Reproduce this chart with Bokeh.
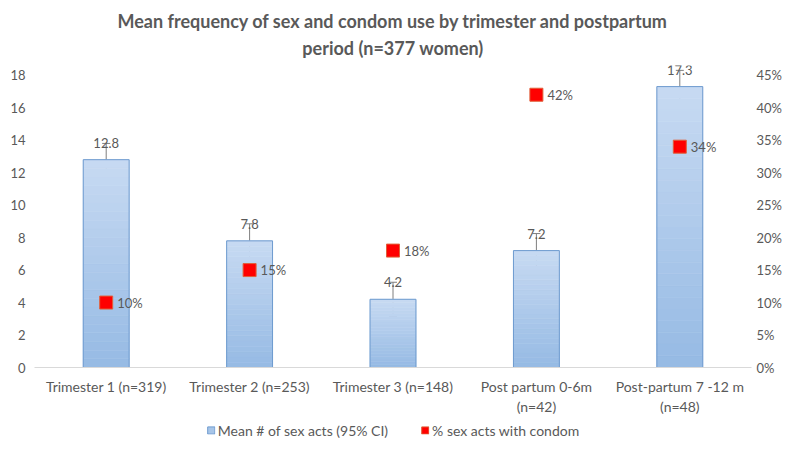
from bokeh.plotting import figure
from bokeh.layouts import column
from bokeh.models import (ColumnDataSource, FactorRange, Range1d, LinearAxis, FixedTicker,
                          PrintfTickFormatter, Whisker, TeeHead, Legend, LegendItem, Title)
from bokeh.core.properties import value
from bokeh.embed import file_html
from bokeh.resources import INLINE

categories = ["Trimester 1 (n=319)", "Trimester 2 (n=253)", "Trimester 3 (n=148)",
              "Post partum 0-6m\n(n=42)", "Post-partum 7 -12 m\n(n=48)"]
mean_acts = [12.8, 7.8, 4.2, 7.2, 17.3]
ci_err = [1.0, 1.05, 1.05, 1.05, 1.0]
pct_condom = [10, 15, 18, 42, 34]
left_ticks = [0, 2, 4, 6, 8, 10, 12, 14, 16, 18]
right_ticks = [0, 5, 10, 15, 20, 25, 30, 35, 40, 45]

FONT = "Lato"
GRAY = "#595959"
BAR_TOP = (199, 218, 242)
BAR_BOTTOM = (150, 186, 228)
N_SLICES = 24
Y_END = 18.6                 # a little headroom so the top value label is not clipped
PCT_END = 45 * Y_END / 18    # keeps 45% level with 18 on the left axis

src = ColumnDataSource(dict(
    cat=categories,
    mean=mean_acts,
    upper=[m + e for m, e in zip(mean_acts, ci_err)],
    lower=[m - e for m, e in zip(mean_acts, ci_err)],
    mlab=[f"{m:.1f}" for m in mean_acts],
    pct=pct_condom,
    plab=[f"{v}%" for v in pct_condom],
))

# gradient slices of each bar (derived from the bar values)
gx, gb, gt, gc = [], [], [], []
for c, m in zip(categories, mean_acts):
    for i in range(N_SLICES):
        f = (i + 0.5) / N_SLICES
        col = tuple(round(BAR_BOTTOM[k] + (BAR_TOP[k] - BAR_BOTTOM[k]) * f) for k in range(3))
        gx.append(c)
        gb.append(m * i / N_SLICES)
        gt.append(m * (i + 1) / N_SLICES)
        gc.append("#%02x%02x%02x" % col)
grad = ColumnDataSource(dict(x=gx, bottom=gb, top=gt, color=gc))

p = figure(width=784, height=418, x_range=FactorRange(*categories), y_range=Range1d(0, Y_END),
           output_backend="svg", toolbar_location=None,
           min_border_left=34, min_border_right=32, min_border_top=65, min_border_bottom=51)
p.extra_y_ranges = {"pct": Range1d(0, PCT_END)}
p.outline_line_color = None
p.xgrid.grid_line_color = None
p.ygrid.grid_line_color = None

p.vbar(x="x", bottom="bottom", top="top", width=0.32, source=grad,
       fill_color="color", line_color="color", line_width=0.6)
bars = p.vbar(x="cat", top="mean", width=0.32, source=src,
              fill_color=None, line_color="#6E9BCF", line_width=1)

wh = Whisker(source=src, base="cat", upper="upper", lower="lower",
             line_color="#7F7F7F", line_width=1,
             upper_head=TeeHead(size=8, line_color="#7F7F7F"),
             lower_head=TeeHead(size=8, line_color="#7F7F7F"))
p.add_layout(wh)

pts = p.scatter(x="cat", y="pct", y_range_name="pct", source=src, marker="square", size=13,
                fill_color="#FF0000", line_color="#E0603A", line_width=1)

p.text(x="cat", y="upper", text="mlab", source=src, text_align="center", text_baseline="middle",
       text_font=value(FONT), text_font_size="13px", text_color=GRAY)
p.text(x="cat", y="pct", y_range_name="pct", text="plab", source=src, x_offset=11,
       text_align="left", text_baseline="middle",
       text_font=value(FONT), text_font_size="13px", text_color=GRAY)

# axes
for ax in (p.yaxis[0], p.xaxis[0]):
    ax.major_tick_out = 0
    ax.major_tick_in = 0
    ax.minor_tick_out = 0
    ax.minor_tick_in = 0
p.yaxis.ticker = FixedTicker(ticks=left_ticks)
p.yaxis.axis_line_color = None
p.yaxis.major_tick_line_color = None
p.yaxis.minor_tick_line_color = None
p.yaxis.major_label_standoff = 9
p.yaxis.major_label_text_font = FONT
p.yaxis.major_label_text_font_size = "13px"
p.yaxis.major_label_text_color = GRAY

ry = LinearAxis(y_range_name="pct", ticker=FixedTicker(ticks=right_ticks),
                formatter=PrintfTickFormatter(format="%d%%"))
ry.axis_line_color = None
ry.major_tick_line_color = None
ry.minor_tick_line_color = None
ry.major_tick_out = 0
ry.major_tick_in = 0
ry.minor_tick_out = 0
ry.minor_tick_in = 0
ry.major_label_standoff = 5
ry.major_label_text_font = FONT
ry.major_label_text_font_size = "13px"
ry.major_label_text_color = GRAY
p.add_layout(ry, "right")

p.xaxis.axis_line_color = "#D9D9D9"
p.xaxis.major_tick_line_color = None
p.xaxis.minor_tick_line_color = None
p.xaxis.major_label_standoff = 10
p.xaxis.major_label_text_font = FONT
p.xaxis.major_label_text_font_size = "14px"
p.xaxis.major_label_text_color = GRAY

t2 = Title(text="period (n=377 women)", align="center", text_font=FONT, text_font_size="18px",
           text_font_style="bold", text_color=GRAY, text_line_height=1.0, standoff=13)
t1 = Title(text="Mean frequency of sex and condom use by trimester and postpartum", align="center",
           text_font=FONT, text_font_size="18px", text_font_style="bold", text_color=GRAY,
           text_line_height=1.0, standoff=-6)
p.add_layout(t2, "above")
p.add_layout(t1, "above")

# legend strip below the chart (key swatches are zero-size proxies)
lg = figure(width=784, height=24, x_range=Range1d(0, 1), y_range=Range1d(0, 1),
            output_backend="svg", toolbar_location=None, min_border=0)
lg.axis.visible = False
lg.xgrid.grid_line_color = None
lg.ygrid.grid_line_color = None
lg.outline_line_color = None
key_bar = lg.vbar(x=[0.5], bottom=[0.5], top=[0.5], width=0.0,
                  fill_color="#A7C5E8", line_color="#6E9BCF")
key_pct = lg.vbar(x=[0.5], bottom=[0.5], top=[0.5], width=0.0,
                  fill_color="#FF0000", line_color="#E0603A")
legend = Legend(items=[LegendItem(label="Mean # of sex acts (95% CI)", renderers=[key_bar]),
                       LegendItem(label="% sex acts with condom", renderers=[key_pct])],
                orientation="horizontal", location="center",
                glyph_width=9, glyph_height=9, label_standoff=3, spacing=32,
                label_text_font=FONT, label_text_font_size="14px", label_text_color=GRAY,
                border_line_color=None, background_fill_alpha=0, padding=2, margin=0)
lg.add_layout(legend)

layout = column(p, lg, spacing=0)
open("out.html", "w").write(file_html(layout, INLINE))
